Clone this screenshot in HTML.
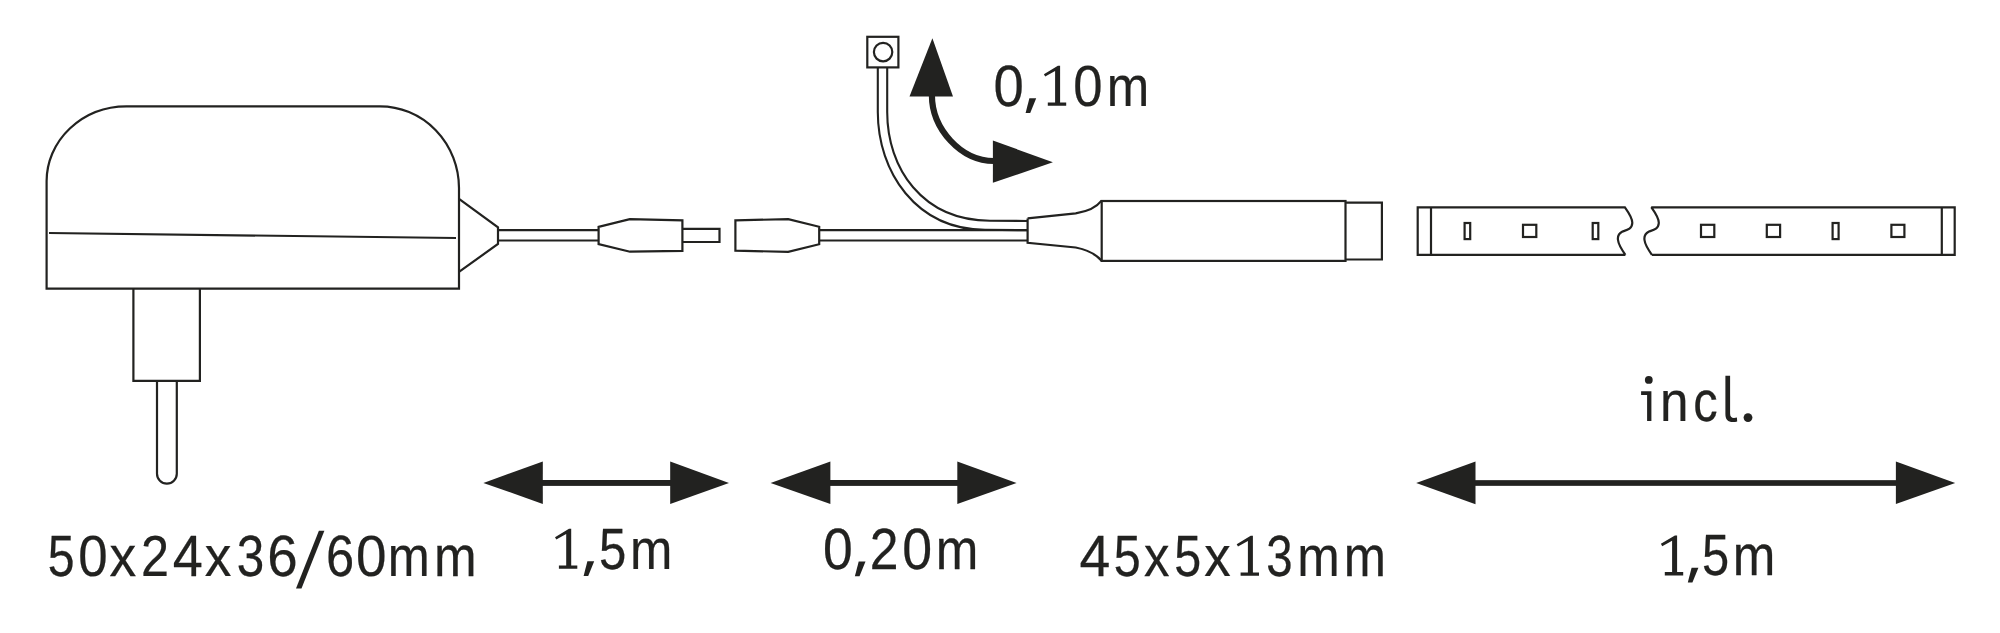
<!DOCTYPE html>
<html><head><meta charset="utf-8">
<style>
html,body{margin:0;padding:0;background:#fff;width:2000px;height:633px;overflow:hidden}
svg{display:block}
text{font-family:"Liberation Sans",sans-serif;font-size:57.6px;fill:#222220;stroke:#222220;stroke-width:0.25px}
.t{fill:#222220}
</style></head><body>
<svg width="2000" height="633" viewBox="0 0 2000 633">
<g fill="none" stroke="#222220" stroke-width="2.2" stroke-linejoin="miter">
  <!-- adapter body -->
  <path d="M46.6,288.6 V181 A80,75 0 0 1 126.5,106.3 H380 A79,82 0 0 1 459,188 V288.6 Z"/>
  <line x1="49" y1="233" x2="456" y2="238"/>
  <!-- plug -->
  <path d="M133.4,288.6 V380.8 H199.9 V288.6"/>
  <path d="M157,380.8 V473.7 A9.9,9.9 0 0 0 176.8,473.7 V380.8"/>
  <!-- strain relief -->
  <path d="M459,198.8 L498,227.3 V244 L459,271.8"/>
  <!-- cable 1 -->
  <line x1="498" y1="230.2" x2="598.5" y2="230.2"/>
  <line x1="498" y1="240.5" x2="598.5" y2="240.5"/>
  <!-- male connector -->
  <path d="M598.6,226.9 L629.8,219.2 L682.4,220.3 V250.8 L630,251.7 L598.6,244.1 Z"/>
  <path d="M682.4,228.9 H719.5 V242 H682.4"/>
  <!-- female connector -->
  <path d="M735.4,220.4 L788.2,219.1 L819.2,226.8 V244.2 L788.2,251.8 L735.4,250.7 Z"/>
  <!-- cable 2 -->
  <line x1="819.4" y1="230.2" x2="1027.6" y2="230.2"/>
  <line x1="819.4" y1="240.5" x2="1027.6" y2="240.5"/>
  <!-- sensor cable -->
  <g stroke-width="2.1">
  <rect x="867.3" y="36.8" width="31.1" height="30.6" stroke-width="2.2"/>
  <circle cx="883.1" cy="52.1" r="9.2" stroke-width="2.2"/>
  <path d="M877.8,67.4 V112 C877.8,172 916,229.5 985,229.8 L1027.6,230.2"/>
  <path d="M887.2,67.4 V112 C887.2,168 922,220.5 990,220.7 L1027.6,221"/>
  </g>
  <!-- controller boot -->
  <path d="M1027.6,218.4 V242.8 L1075.7,247.5 C1088,250 1096,254 1101.6,260.8"/>
  <path d="M1027.6,218.4 L1075.7,213.4 C1088,211.5 1096,208 1101.6,200.7"/>
  <!-- controller box -->
  <rect x="1101.7" y="201" width="243.8" height="59.9"/>
  <path d="M1345.5,202.6 H1381.9 V259.5 H1345.5"/>
  <!-- LED strip section 1 -->
  <path stroke-miterlimit="2" d="M1625.4,254.8 H1417.7 V207.3 H1624.9 C1629,213 1632.5,218 1632.3,223 C1632,229 1627,230 1622.5,231.5 C1618.5,233.5 1617.5,236.5 1618,240 C1618.5,245 1622,250 1625.4,254.8"/>
  <line x1="1431" y1="207.3" x2="1431" y2="254.8"/>
  <rect x="1464.6" y="223" width="5.6" height="16.1"/>
  <rect x="1523" y="224.8" width="13.3" height="12.2"/>
  <rect x="1592.7" y="223" width="5.6" height="16.1"/>
  <!-- LED strip section 2 -->
  <path stroke-miterlimit="2" d="M1651.9,254.8 H1954.7 V207.3 H1651.4 C1655.5,213 1659,218 1658.8,223 C1658.5,229 1653.5,230 1649,231.5 C1645,233.5 1644,236.5 1644.5,240 C1645,245 1648.5,250 1651.9,254.8"/>
  <line x1="1941.8" y1="207.3" x2="1941.8" y2="254.8"/>
  <rect x="1701" y="224.8" width="13.3" height="12.2"/>
  <rect x="1766.8" y="224.8" width="13.3" height="12.2"/>
  <rect x="1832.6" y="223" width="6" height="16.1"/>
  <rect x="1891.4" y="224.8" width="13" height="12.2"/>
</g>
<g fill="#222220" stroke="none">
  <!-- curved arrow -->
  <polygon points="932.4,38.2 909.5,96.4 953,96.4"/>
  <polygon points="992.9,140.5 1052.9,162.3 992.9,182.8"/>
  <!-- dimension arrows -->
  <polygon points="483.4,482.9 542.8,461.5 542.8,503.9"/>
  <polygon points="729,482.9 670.2,461.5 670.2,503.9"/>
  <rect x="542" y="480" width="129" height="5.9"/>
  <polygon points="770.6,482.9 830.4,461.5 830.4,503.9"/>
  <polygon points="1016.6,482.9 957.3,461.5 957.3,503.9"/>
  <rect x="830" y="480" width="128" height="5.9"/>
  <polygon points="1416.2,483.1 1475.5,461.6 1475.5,504.2"/>
  <polygon points="1955.2,483 1895.9,461.6 1895.9,504.1"/>
  <rect x="1475" y="480.15" width="421" height="5.7"/>
</g>
<path d="M931.9,95 C931.9,129 961,161 994,161" fill="none" stroke="#222220" stroke-width="6.2"/>
<text transform="translate(993.50,105.60) scale(0.9461,1)">0</text>
<polygon class="t" points="1029.4,98.2 1036.2,98.2 1030.2,112.9 1025.6,112.9"/>
<path class="t" d="M1055.10,71.10 L1045.20,76.60 L1043.90,74.20 L1057.90,65.80 L1060.10,65.80 L1060.10,102.40 L1066.20,102.40 L1066.20,105.80 L1047.80,105.80 L1047.80,102.40 L1055.10,102.40 Z"/>
<text transform="translate(1073.17,105.60) scale(0.9134,1)">0</text>
<text transform="translate(1106.64,105.60) scale(0.8858,1)">m</text>
<path class="t" d="M566.20,534.10 L556.30,539.60 L555.00,537.20 L569.00,528.80 L571.20,528.80 L571.20,565.40 L577.30,565.40 L577.30,568.80 L558.90,568.80 L558.90,565.40 L566.20,565.40 Z"/>
<polygon class="t" points="587.4,561.2 594.2,561.2 588.2,575.9 583.6,575.9"/>
<text transform="translate(599.06,568.60) scale(0.8514,1)">5</text>
<text transform="translate(630.05,568.60) scale(0.8833,1)">m</text>
<text transform="translate(822.94,569.00) scale(0.9279,1)">0</text>
<polygon class="t" points="858.7,561.6 865.5,561.6 859.5,576.3 854.9,576.3"/>
<text transform="translate(869.73,569.00) scale(0.8975,1)">2</text>
<text transform="translate(902.23,569.00) scale(0.9316,1)">0</text>
<text transform="translate(935.63,569.00) scale(0.8883,1)">m</text>
<text transform="translate(47.70,575.60) scale(0.8367,1)">5</text>
<text transform="translate(78.36,575.60) scale(0.9170,1)">0</text>
<text transform="translate(109.42,575.60) scale(0.9279,1)">x</text>
<text transform="translate(140.89,575.60) scale(0.8746,1)">2</text>
<text transform="translate(172.78,575.60) scale(0.9388,1)">4</text>
<text transform="translate(204.83,575.60) scale(0.9243,1)">x</text>
<text transform="translate(236.74,575.60) scale(0.8587,1)">3</text>
<text transform="translate(267.25,575.60) scale(0.9500,1)">6</text>
<text transform="translate(325.96,575.60) scale(0.8785,1)">6</text>
<text transform="translate(355.98,575.60) scale(0.9534,1)">0</text>
<text transform="translate(387.77,575.60) scale(0.8759,1)">m</text>
<text transform="translate(434.03,575.60) scale(0.8883,1)">m</text>
<text transform="translate(1079.46,575.60) scale(0.9595,1)">4</text>
<text transform="translate(1113.69,575.60) scale(0.8404,1)">5</text>
<text transform="translate(1143.95,575.60) scale(0.8843,1)">x</text>
<text transform="translate(1174.29,575.60) scale(0.8404,1)">5</text>
<text transform="translate(1204.13,575.60) scale(0.9170,1)">x</text>
<path class="t" d="M1247.90,541.10 L1238.00,546.60 L1236.70,544.20 L1250.70,535.80 L1252.90,535.80 L1252.90,572.40 L1259.00,572.40 L1259.00,575.80 L1240.60,575.80 L1240.60,572.40 L1247.90,572.40 Z"/>
<text transform="translate(1266.22,575.60) scale(0.8221,1)">3</text>
<text transform="translate(1297.34,575.60) scale(0.8858,1)">m</text>
<text transform="translate(1343.76,575.60) scale(0.8808,1)">m</text>
<text transform="translate(1660.02,420.80) scale(0.8889,1)">n</text>
<text transform="translate(1693.15,420.80) scale(0.8476,1)">c</text>
<path class="t" d="M1672.10,540.70 L1662.20,546.20 L1660.90,543.80 L1674.90,535.40 L1677.10,535.40 L1677.10,572.00 L1683.20,572.00 L1683.20,575.40 L1664.80,575.40 L1664.80,572.00 L1672.10,572.00 Z"/>
<polygon class="t" points="1691.6,567.8 1698.4,567.8 1692.4,582.5 1687.8,582.5"/>
<text transform="translate(1701.97,575.20) scale(0.8477,1)">5</text>
<text transform="translate(1732.73,575.20) scale(0.8883,1)">m</text>
<polygon class="t" points="318.9,530.7 324.4,530.7 301.5,588.5 296,588.5"/>
<path class="t" d="M1641.1,391.2 H1651.4 V421.1 H1647.1 V394.9 H1641.1 Z"/><circle class="t" cx="1648.8" cy="379.9" r="3.9"/>
<path class="t" d="M1725.4,375.8 H1730.1 V413.5 C1730.1,416.6 1731.4,417.9 1734,417.9 L1736.9,417.6 L1737.2,421.4 C1735.8,421.8 1734.5,422 1733,422 C1727.8,422 1725.4,419.5 1725.4,414 Z"/><circle class="t" cx="1748" cy="417.6" r="4.4"/>
</svg>
</body></html>
